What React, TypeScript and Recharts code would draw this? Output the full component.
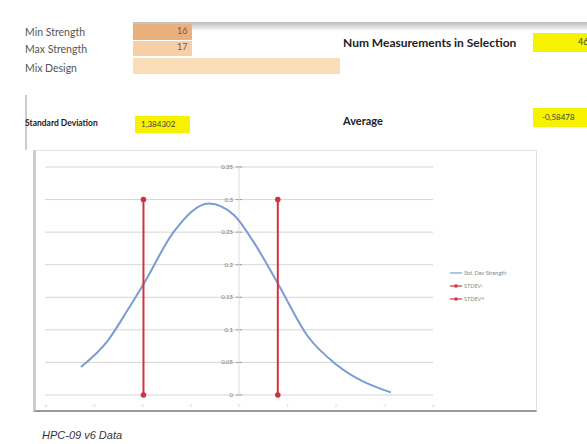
import React from "react";
import { LineChart, Line, XAxis, YAxis, ReferenceLine } from "recharts";

// bell curve points
const curveX = [-3.26, -2.7, -2.3, -1.94, -1.35, -0.62, -0.1, 0.3, 0.78, 1.43, 2.02, 3.13];
const curveY = [0.043, 0.084, 0.13, 0.174, 0.25, 0.294, 0.276, 0.235, 0.174, 0.089, 0.046, 0.004];

// +/- one standard deviation markers
const stdMinusX = -1.97;
const stdPlusX = 0.8;
const stdLineY = [0, 0.3];

const yTicks = [0, 0.05, 0.1, 0.15, 0.2, 0.25, 0.3, 0.35];
const yTickLabels = ["0", "0.05", "0.1", "0.15", "0.2", "0.25", "0.3", "0.35"];
const xTicks = [-4, -3, -2, -1, 0, 1, 2, 3, 4];
const seriesNames = ["Std. Dev Strength", "STDEV-", "STDEV+"];

const curve = curveX.map((x, i) => ({ x, y: curveY[i] }));
const stdMinus = stdLineY.map((y) => ({ x: stdMinusX, y }));
const stdPlus = stdLineY.map((y) => ({ x: stdPlusX, y }));

const BLUE = "#7a9cd6";
const RED = "#d2313d";
const seriesColors = [BLUE, RED, RED];
const font = "Lato, 'Open Sans', sans-serif";

const label: React.CSSProperties = {
  position: "absolute",
  fontFamily: font,
  fontSize: 10.5,
  color: "#555",
  whiteSpace: "nowrap",
};
const bold: React.CSSProperties = { ...label, fontWeight: 700, color: "#222" };

function box(left: number, top: number, width: number, height: number, bg: string) {
  return { position: "absolute" as const, left, top, width, height, background: bg };
}

function AxisLabel(props: any) {
  const vb = props.viewBox ?? props;
  const cx = vb.x + vb.width / 2;
  return (
    <g>
      <line x1={cx - 3} x2={cx + 3} y1={vb.y} y2={vb.y} stroke="#999" />
      <text x={cx - 6} y={vb.y + 2} textAnchor="end" fontSize={6} fill="#777" fontFamily={font}>
        {props.text}
      </text>
    </g>
  );
}

export default function App() {
  return (
    <div
      style={{
        position: "absolute",
        left: 0,
        top: 0,
        width: 587,
        height: 444,
        background: "#fff",
        overflow: "hidden",
      }}
    >
      {/* sheet header shadow */}
      <div style={{ ...box(133, 22, 454, 8), background: "linear-gradient(#bbb, #f4f4f4)" }} />

      <div style={box(133, 24, 59, 16, "#e9b07e")} />
      <div style={box(133, 41, 59, 15, "#f6cfa6")} />
      <div style={box(133, 58, 207, 16, "#fbdcb8")} />
      <div style={{ ...label, left: 25, top: 26 }}>Min Strength</div>
      <div style={{ ...label, left: 25, top: 43 }}>Max Strength</div>
      <div style={{ ...label, left: 25, top: 62 }}>Mix Design</div>
      <div style={{ ...label, left: 177, top: 25, fontSize: 9, color: "#7a5a3a" }}>16</div>
      <div style={{ ...label, left: 177, top: 41, fontSize: 9, color: "#7a5a3a" }}>17</div>

      <div style={{ ...bold, left: 343, top: 35, fontSize: 12 }}>Num Measurements in Selection</div>
      <div style={box(533, 33, 60, 19, "#f7f200")} />
      <div style={{ ...label, left: 578, top: 36, fontSize: 9, color: "#444" }}>46</div>

      <div style={{ ...box(25, 95, 2, 55, "#ccc") }} />
      <div style={{ ...bold, left: 25, top: 118, fontSize: 8.5 }}>Standard Deviation</div>
      <div style={box(135, 116, 55, 17, "#f7f200")} />
      <div style={{ ...label, left: 141, top: 119, fontSize: 8, color: "#444" }}>1,384302</div>

      <div style={{ ...bold, left: 343, top: 114, fontSize: 11 }}>Average</div>
      <div style={box(533, 108, 60, 19, "#f7f200")} />
      <div style={{ ...label, left: 542, top: 112, fontSize: 8, color: "#444" }}>-0,58478</div>

      {/* chart frame */}
      <div
        style={{
          position: "absolute",
          left: 33,
          top: 150,
          width: 504,
          height: 262,
          borderLeft: "3px solid #ccc",
          borderTop: "1px solid #e4e4e4",
          borderRight: "1px solid #e0e0e0",
          borderBottom: "2px solid #999",
          boxSizing: "border-box",
        }}
      />
      <div style={{ position: "absolute", left: 33, top: 150 }}>
        <LineChart width={504} height={262} margin={{ top: 17, right: 104, bottom: 5, left: 12 }}>
          <XAxis
            type="number"
            dataKey="x"
            domain={[-4, 4]}
            ticks={xTicks}
            axisLine={false}
            tickLine={false}
            height={12}
            tick={{ fontSize: 5, fill: "#c8c8c8" }}
            allowDataOverflow
          />
          <YAxis type="number" dataKey="y" domain={[0, 0.35]} ticks={yTicks} hide />
          {yTicks.map((t, i) => (
            <ReferenceLine
              key={t}
              y={t}
              stroke="#d6d6d6"
              label={(p: any) => <AxisLabel {...p} text={yTickLabels[i]} />}
            />
          ))}
          <ReferenceLine x={0} stroke="#dcdcdc" />
          <Line
            data={curve}
            dataKey="y"
            name={seriesNames[0]}
            type="monotone"
            stroke={BLUE}
            strokeWidth={2}
            dot={false}
            isAnimationActive={false}
          />
          <Line
            data={stdMinus}
            dataKey="y"
            name={seriesNames[1]}
            stroke={RED}
            strokeWidth={2}
            dot={{ r: 1.8, fill: RED, stroke: RED }}
            isAnimationActive={false}
          />
          <Line
            data={stdPlus}
            dataKey="y"
            name={seriesNames[2]}
            stroke={RED}
            strokeWidth={2}
            dot={{ r: 1.8, fill: RED, stroke: RED }}
            isAnimationActive={false}
          />
        </LineChart>
      </div>

      {/* legend */}
      <div
        style={{
          position: "absolute",
          left: 450,
          top: 266,
          fontFamily: font,
          fontSize: 5.5,
          color: "#888",
        }}
      >
        {seriesNames.map((name, i) => (
          <div key={name} style={{ display: "flex", alignItems: "center", height: 13 }}>
            <svg width={12} height={6} style={{ marginRight: 2 }}>
              <line x1={0} x2={12} y1={3} y2={3} stroke={seriesColors[i]} strokeWidth={1.2} />
              {i > 0 && <rect x={4.5} y={1.5} width={3} height={3} fill={RED} />}
            </svg>
            {name}
          </div>
        ))}
      </div>

      <div
        style={{
          position: "absolute",
          left: 42,
          top: 429,
          fontFamily: "'Liberation Sans', Arial, sans-serif",
          fontStyle: "italic",
          fontSize: 11,
          color: "#333",
        }}
      >
        HPC-09 v6 Data
      </div>
    </div>
  );
}
